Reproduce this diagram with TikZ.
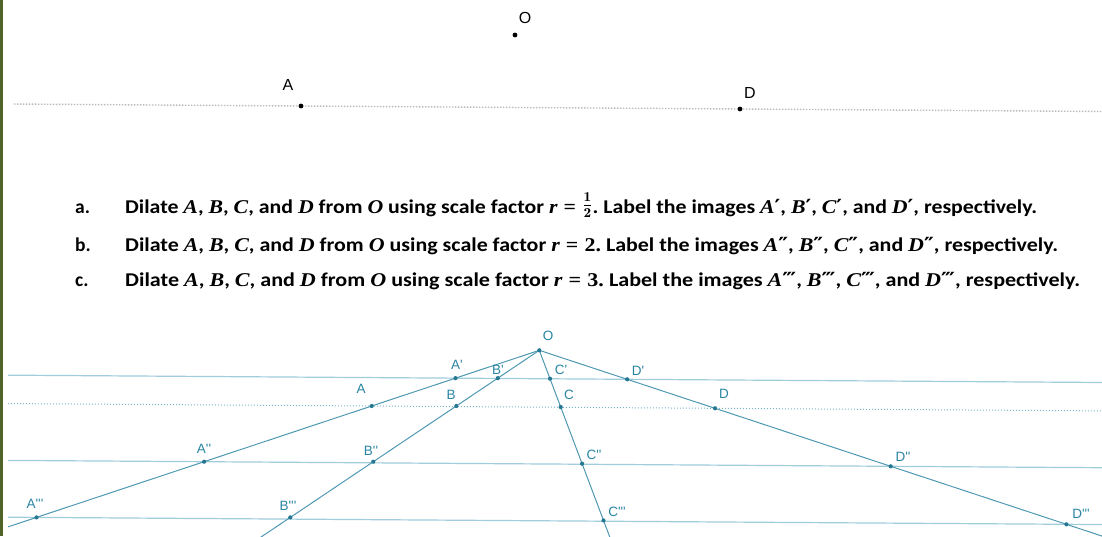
\documentclass[tikz,border=0pt]{standalone}
\usepackage{fontspec}
\usepackage{graphicx}
\usetikzlibrary{calc}
\newfontfamily\calfont{Carlito}
\newfontfamily\mvfont{Liberation Serif}
\newfontfamily\labfont{Liberation Sans}
\newfontfamily\prfont{DejaVu Serif}
\newcommand\mv[1]{{\mvfont\bfseries\itshape #1}}
\newcommand\eqs{\hspace{0.28em}{\mvfont =}\hspace{0.28em}}
\newcommand\pa{{\prfont ′}}
\newcommand\pb{{\prfont ″}}
\newcommand\pc{{\prfont ‴}}
\definecolor{barcol}{RGB}{79,98,40}
\definecolor{raycol}{RGB}{78,152,178}
\definecolor{hcol}{RGB}{160,205,220}
\definecolor{dotcol}{RGB}{120,178,198}
\definecolor{ptcol}{RGB}{38,120,146}
\definecolor{labcol}{RGB}{40,132,162}
\definecolor{topdotcol}{RGB}{185,185,185}
\begin{document}
\begin{tikzpicture}[x=1pt,y=-1pt,
  txt/.style={anchor=base west,inner sep=0pt,font=\calfont\bfseries\fontsize{19.5}{22}\selectfont},
  toplab/.style={inner sep=0pt,font=\labfont\fontsize{16}{18}\selectfont},
  blab/.style={inner sep=0pt,text=labcol,font=\labfont\fontsize{13.5}{15}\selectfont},
  ray/.style={draw=raycol,line width=1pt},
  hline/.style={draw=hcol,line width=1.2pt},
  hdot/.style={draw=dotcol,line width=1pt,dash pattern=on 1pt off 2pt},
  topdot/.style={draw=topdotcol,line width=1.4pt,dash pattern=on 1.4pt off 1.6pt}]
\useasboundingbox (0,0) rectangle (1102,536);
\fill[barcol] (0,0) rectangle (3,536);
% top figure
\coordinate (tO) at (515,35);
\coordinate (tA) at (301,106);
\coordinate (tD) at (740,109);
\coordinate (tL) at ($(tA)!-0.654!(tD)$);
\coordinate (tR) at ($(tA)!1.825!(tD)$);
\draw[topdot] (tL) -- (tR);
\foreach \p in {tO,tA,tD} \fill (\p) circle (2.4);
\node[toplab] (ltO) at (525,18) {O};
\node[toplab] (ltA) at (288,85) {A};
\node[toplab] (ltD) at (750,93) {D};
% text
\node[txt] (qa) at (75,213) {a.};
\node[txt] (qb) at (75,251) {b.};
\node[txt] (qc) at (75,286) {c.};
\node[txt] (ta) at (125,213) {\resizebox{912pt}{\height}{Dilate \mv{A}, \mv{B}, \mv{C}, and \mv{D} from \mv{O} using scale factor \mv{r}\eqs\raisebox{3pt}{$\frac{\mathbf{1}}{\mathbf{2}}$}.\ Label the images \mv{A}\pa, \mv{B}\pa, \mv{C}\pa, and \mv{D}\pa, respectively.}};
\node[txt] (tb) at (125,251) {\resizebox{933pt}{\height}{Dilate \mv{A}, \mv{B}, \mv{C}, and \mv{D} from \mv{O} using scale factor \mv{r}\eqs{\mvfont\bfseries 2.}\ Label the images \mv{A}\pb, \mv{B}\pb, \mv{C}\pb, and \mv{D}\pb, respectively.}};
\node[txt] (tc) at (125,286) {\resizebox{955pt}{\height}{Dilate \mv{A}, \mv{B}, \mv{C}, and \mv{D} from \mv{O} using scale factor \mv{r}\eqs{\mvfont\bfseries 3.}\ Label the images \mv{A}\pc, \mv{B}\pc, \mv{C}\pc, and \mv{D}\pc, respectively.}};
% bottom figure
\coordinate (O) at (539.3,350.3);
\coordinate (A) at (371.7,406);
\coordinate (B) at (456.3,406);
\coordinate (C) at (560.7,407);
\coordinate (D) at (715,408.3);
\foreach \q in {A,B,C,D}{
  \coordinate (\q1) at ($(O)!0.5!(\q)$);
  \coordinate (\q2) at ($(O)!2!(\q)$);
  \coordinate (\q3) at ($(O)!3!(\q)$);
  \coordinate (\q4) at ($(O)!4!(\q)$);
}
\foreach \k in {1,2,3}{
  \coordinate (L\k) at ($(A\k)!-3!(D\k)$);
  \coordinate (R\k) at ($(A\k)!4!(D\k)$);
}
\coordinate (L0) at ($(A)!-3!(D)$);
\coordinate (R0) at ($(A)!4!(D)$);
\begin{scope}
\clip (8,320) rectangle (1102,536);
\draw[hline] (L1) -- (R1);
\draw[hline] (L2) -- (R2);
\draw[hline] (L3) -- (R3);
\draw[hdot] (L0) -- (R0);
\foreach \q in {A,B,C,D} \draw[ray] (O) -- (\q4);
\end{scope}
\foreach \p in {O,A,B,C,D,A1,B1,C1,D1,A2,B2,C2,D2,A3,B3,C3,D3} \fill[ptcol] (\p) circle (2.1);
\node[blab] (lO) at (548,336) {O};
\node[blab] (lA1) at (457,365) {A'};
\node[blab] (lB1) at (498,370) {B'};
\node[blab] (lC1) at (561,370) {C'};
\node[blab] (lD1) at (638,370.5) {D'};
\node[blab] (lA) at (361,389) {A};
\node[blab] (lB) at (451,395) {B};
\node[blab] (lC) at (569,395) {C};
\node[blab] (lD) at (724,394) {D};
\node[blab] (lA2) at (204,449) {A''};
\node[blab] (lB2) at (371,451) {B''};
\node[blab] (lC2) at (594,455) {C''};
\node[blab] (lD2) at (903,457) {D''};
\node[blab] (lA3) at (35,504) {A'''};
\node[blab] (lB3) at (288,506) {B'''};
\node[blab] (lC3) at (617,512) {C'''};
\node[blab] (lD3) at (1081,514) {D'''};
\end{tikzpicture}
\end{document}
